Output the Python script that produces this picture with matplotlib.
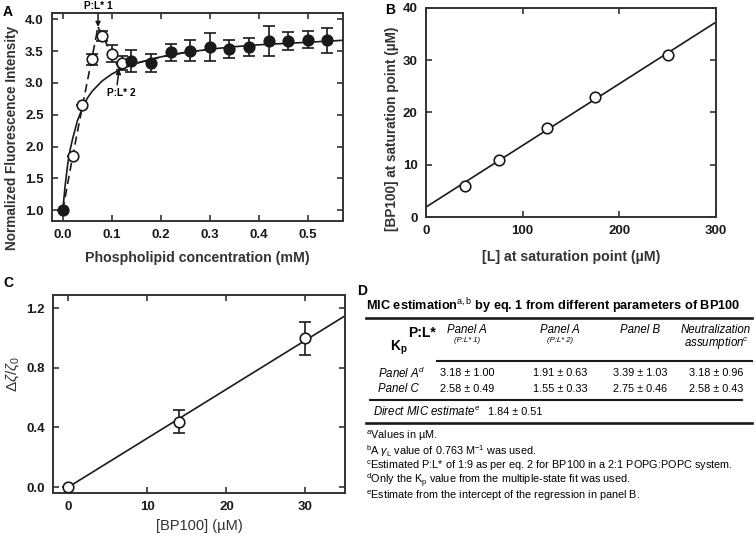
import matplotlib
matplotlib.use("Agg")
import matplotlib.pyplot as plt

plt.rcParams["font.family"] = ["Liberation Sans", "DejaVu Sans"]
plt.rcParams["mathtext.fontset"] = "custom"
plt.rcParams["mathtext.rm"] = "Liberation Sans"
plt.rcParams["mathtext.it"] = "Liberation Sans:italic"
plt.rcParams["mathtext.bf"] = "Liberation Sans:bold"

INK = "#1a1a1a"
GREY = "#333333"

# panel A: titration data
a_open_x = [0.02, 0.04, 0.06, 0.08, 0.10, 0.12]
a_open_y = [1.85, 2.65, 3.37, 3.74, 3.46, 3.32]
a_open_err = [0.0, 0.0, 0.08, 0.08, 0.13, 0.11]
a_fill_x = [0.0, 0.14, 0.18, 0.22, 0.26, 0.30, 0.34, 0.38, 0.42, 0.46, 0.50, 0.54]
a_fill_y = [1.00, 3.35, 3.31, 3.48, 3.51, 3.57, 3.53, 3.56, 3.66, 3.66, 3.68, 3.67]
a_fill_err = [0.0, 0.17, 0.14, 0.14, 0.16, 0.22, 0.14, 0.14, 0.23, 0.14, 0.13, 0.20]
# fitted saturation curve
a_fit_x = [0.0, 0.005, 0.01, 0.015, 0.02, 0.03, 0.04, 0.05, 0.06, 0.08, 0.10, 0.12,
           0.15, 0.20, 0.25, 0.30, 0.35, 0.40, 0.45, 0.50, 0.57]
a_fit_y = [1.00, 1.40, 1.72, 1.95, 2.12, 2.41, 2.60, 2.76, 2.87, 3.03, 3.14, 3.22,
           3.31, 3.41, 3.48, 3.53, 3.57, 3.60, 3.62, 3.64, 3.67]
# dashed multi-state trace
a_dash_x = [0.0, 0.02, 0.04, 0.072, 0.115, 0.15, 0.20, 0.25, 0.30]
a_dash_y = [1.00, 1.84, 2.63, 3.88, 3.22, 3.31, 3.41, 3.48, 3.53]
plstar1 = (0.072, 3.88)
plstar2 = (0.115, 3.22)

# panel B: saturation points
b_x = [40, 75, 125, 175, 250]
b_y = [6.0, 11.0, 17.0, 23.0, 31.0]
b_fit_x = [0, 300]
b_fit_y = [1.9, 37.3]

# panel C: zeta potential
c_x = [0, 14, 30]
c_y = [0.0, 0.44, 1.0]
c_err = [0.0, 0.08, 0.11]
c_fit_x = [0, 35]
c_fit_y = [0.0, 1.15]

# panel D: table
d_title = r"MIC estimation$^{\rm a,b}$ by eq. 1 from different parameters of BP100"
d_cols = ["Panel A", "Panel A", "Panel B", "Neutralization"]
d_cols_sub = ["(P:L* 1)", "(P:L* 2)", "", ""]
d_rows = [r"Panel A$^{\mathit{d}}$", "Panel C"]
d_vals = [["3.18 ± 1.00", "1.91 ± 0.63", "3.39 ± 1.03", "3.18 ± 0.96"],
          ["2.58 ± 0.49", "1.55 ± 0.33", "2.75 ± 0.46", "2.58 ± 0.43"]]
d_direct = "1.84 ± 0.51"
d_notes = [r"$^{\rm a}$Values in µM.",
           r"$^{\rm b}$A $\mathit{\gamma}_{\rm L}$ value of 0.763 M$^{-1}$ was used.",
           r"$^{\rm c}$Estimated P:L* of 1:9 as per eq. 2 for BP100 in a 2:1 POPG:POPC system.",
           r"$^{\rm d}$Only the K$_{\rm p}$ value from the multiple-state fit was used.",
           r"$^{\rm e}$Estimate from the intercept of the regression in panel B."]


def style_axes(ax):
    for s in ax.spines.values():
        s.set_linewidth(1.4)
        s.set_color(GREY)
    ax.tick_params(direction="in", top=True, right=True, length=4.5, width=1.2,
                   labelsize=9.5, pad=6, colors=GREY, labelcolor=INK)
    for lab in ax.get_xticklabels() + ax.get_yticklabels():
        lab.set_fontweight("bold")


W, H = 756, 545
fig = plt.figure(figsize=(W / 100, H / 100), dpi=100)


def box(l, t, r, b):
    return [l / W, 1 - b / H, (r - l) / W, (b - t) / H]


mk = dict(marker="o", ms=7.6, mec=INK, mew=1.2, ls="none", zorder=4)
eb = dict(fmt="none", ecolor=INK, elinewidth=1.2, capsize=4.3, capthick=1.2, zorder=3)
lab_kw = dict(fontsize=10.2, fontweight="bold", color=GREY)

# ---- A
axA = fig.add_axes(box(52, 13, 343, 221))
axA.plot(a_fit_x, a_fit_y, color=INK, lw=1.2, zorder=2)
axA.plot(a_dash_x, a_dash_y, color=INK, lw=1.2, ls=(0, (5, 3)), zorder=2)
axA.errorbar(a_open_x, a_open_y, yerr=a_open_err, **eb)
axA.errorbar(a_fill_x, a_fill_y, yerr=a_fill_err, **eb)
axA.plot(a_open_x, a_open_y, mfc="white", **mk)
axA.plot(a_fill_x, a_fill_y, mfc=INK, **mk)
axA.set_xlim(-0.022, 0.572)
axA.set_ylim(0.83, 4.1)
axA.set_xticks([0.0, 0.1, 0.2, 0.3, 0.4, 0.5])
axA.set_yticks([1.0, 1.5, 2.0, 2.5, 3.0, 3.5, 4.0])
axA.xaxis.set_major_formatter(matplotlib.ticker.FormatStrFormatter("%.1f"))
axA.yaxis.set_major_formatter(matplotlib.ticker.FormatStrFormatter("%.1f"))
axA.set_xlabel("Phospholipid concentration (mM)", labelpad=7, **lab_kw)
axA.set_ylabel("Normalized Fluorescence Intensity", fontsize=9.8, fontweight="bold", color=GREY)
axA.yaxis.set_label_coords(-0.115, 0.40)
arrow = dict(arrowstyle="-|>", color=INK, lw=1.1, mutation_scale=7, shrinkA=0, shrinkB=0)
axA.annotate("P:L* 1", xy=plstar1, xytext=(plstar1[0], 4.21), ha="center", va="center",
             fontsize=7.3, fontweight="bold", arrowprops=arrow, annotation_clip=False)
axA.annotate("P:L* 2", xy=plstar2, xytext=(0.119, 2.85), ha="center", va="center",
             fontsize=7.3, fontweight="bold",
             arrowprops=dict(arrow, relpos=(0.35, 1.0)))
style_axes(axA)

# ---- B
axB = fig.add_axes(box(426, 8, 716, 217))
axB.plot(b_fit_x, b_fit_y, color=INK, lw=1.2, zorder=2)
axB.plot(b_x, b_y, mfc="white", **mk)
axB.set_xlim(0, 300)
axB.set_ylim(0, 40)
axB.set_xticks([0, 100, 200, 300])
axB.set_yticks([0, 10, 20, 30, 40])
axB.set_xlabel("[L] at saturation point (µM)", labelpad=9, **lab_kw)
axB.set_ylabel("[BP100] at saturation point (µM)", fontsize=9.8, fontweight="bold", color=GREY)
axB.yaxis.set_label_coords(-0.092, 0.42)
style_axes(axB)

# ---- C
axC = fig.add_axes(box(53, 295, 345, 493))
axC.plot(c_fit_x, c_fit_y, color=INK, lw=1.2, zorder=2)
axC.errorbar(c_x, c_y, yerr=c_err, **eb)
axC.plot(c_x, c_y, mfc="white", **mk)
axC.set_xlim(-1.95, 35)
axC.set_ylim(-0.04, 1.29)
axC.set_xticks([0, 10, 20, 30])
axC.set_yticks([0.0, 0.4, 0.8, 1.2])
axC.yaxis.set_major_formatter(matplotlib.ticker.FormatStrFormatter("%.1f"))
axC.set_xlabel("[BP100] (µM)", fontsize=10.5, color=GREY, labelpad=4)
axC.set_ylabel(r"$\mathit{\Delta\zeta/\zeta}_0$", fontsize=11, color=GREY)
axC.yaxis.set_label_coords(-0.11, 0.6)
style_axes(axC)

# panel letters
for lbl, x, y in [("A", 8, 12), ("B", 390, 10), ("C", 8, 283), ("D", 362, 291)]:
    fig.text(x / W, 1 - y / H, lbl, fontsize=10, fontweight="bold", ha="center", va="center")

# ---- D (table drawn in pixel coords)
axD = fig.add_axes([0, 0, 1, 1], facecolor="none")
axD.set_xlim(0, W)
axD.set_ylim(H, 0)
axD.axis("off")
axD.text(366, 306, d_title, fontsize=9.2, fontweight="bold", va="center", ha="left")
axD.plot([366, 752], [318, 318], color=INK, lw=1.9)
axD.text(436, 333, "P:L*", fontsize=10, fontweight="bold", ha="right", va="center")
axD.text(390, 348, r"$\mathbf{K_p}$", fontsize=10, fontweight="bold", ha="left", va="center")
col_x = [467, 560, 640, 716]
for cx, name, sub in zip(col_x, d_cols, d_cols_sub):
    axD.text(cx, 330, name, fontsize=8.3, style="italic", ha="center", va="center")
    if sub:
        axD.text(cx, 341, sub, fontsize=5.6, style="italic", ha="center", va="center")
axD.text(col_x[3], 344, r"assumption$^{\mathit{c}}$", fontsize=8.3, style="italic", ha="center", va="center")
axD.plot([437, 752], [361, 361], color=INK, lw=1.5)
row_y = [373, 389]
for ry, rname, vals in zip(row_y, d_rows, d_vals):
    axD.text(378, ry, rname, fontsize=8.3, style="italic", ha="left", va="center")
    for cx, v in zip(col_x, vals):
        axD.text(cx, ry, v, fontsize=7.8, ha="center", va="center")
axD.plot([370, 742], [400, 400], color=INK, lw=1.5)
axD.text(373, 412, r"Direct MIC estimate$^{\mathit{e}}$", fontsize=8.3, style="italic", ha="left", va="center")
axD.text(488, 412, d_direct, fontsize=7.8, ha="left", va="center")
axD.plot([366, 752], [423, 423], color=INK, lw=1.9)
for i, note in enumerate(d_notes):
    axD.text(366, 436 + 15 * i, note, fontsize=7.8, ha="left", va="center")

fig.savefig("out.png", dpi=100)
